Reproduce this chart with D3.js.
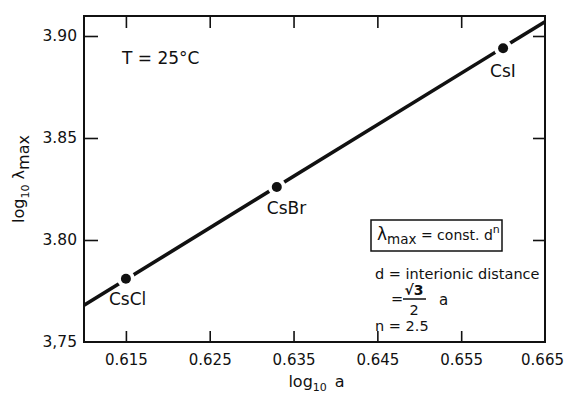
<!DOCTYPE html>
<html>
<head>
<meta charset="utf-8">
<script src="https://cdn.jsdelivr.net/npm/d3@7"></script>
<style>
  body { margin: 0; background: #fff; }
  svg text { font-family: "DejaVu Sans", sans-serif; fill: #111; }
</style>
</head>
<body>
<div id="chart"></div>
<script>
// Values
const salts = ["CsCl", "CsBr", "CsI"];
const logA = [0.615, 0.633, 0.660];
const logLambda = [3.781, 3.826, 3.894];
// fitted straight line, ends at the frame
const fitLogA = [0.610, 0.665];
const fitLogLambda = [3.768, 3.907];
// label offsets from each point (dx, dy)
const labelDx = [-17, -10, -13];
const labelDy = [26, 27, 29];

const xTicks = [0.615, 0.625, 0.635, 0.645, 0.655, 0.665];
const xTickLabels = ["0.615", "0.625", "0.635", "0.645", "0.655", "0.665"];
const yTicks = [3.75, 3.80, 3.85, 3.90];
const yTickLabels = ["3,75", "3.80", "3.85", "3.90"];

const width = 565, height = 396;
const frame = {left: 84, right: 545, top: 16, bottom: 342};

const svg = d3.select("#chart")
  .append("svg")
    .attr("width", width)
    .attr("height", height);

const x = d3.scaleLinear()
  .domain([0.610, 0.665])
  .range([frame.left, frame.right]);

const y = d3.scaleLinear()
  .domain([3.75, 3.9098])
  .range([frame.bottom, frame.top]);

// inward ticks on all four sides (skip the corners)
const innerX = xTicks.slice(0, -1);
const innerY = yTicks.slice(1);

svg.append("g")
  .attr("transform", `translate(0,${frame.bottom})`)
  .call(d3.axisBottom(x).tickValues(innerX).tickSize(-11).tickSizeOuter(0).tickFormat(""));
svg.append("g")
  .attr("transform", `translate(0,${frame.top})`)
  .call(d3.axisTop(x).tickValues(innerX).tickSize(-12).tickSizeOuter(0).tickFormat(""));
svg.append("g")
  .attr("transform", `translate(${frame.left},0)`)
  .call(d3.axisLeft(y).tickValues(innerY).tickSize(-14).tickSizeOuter(0).tickFormat(""));
svg.append("g")
  .attr("transform", `translate(${frame.right},0)`)
  .call(d3.axisRight(y).tickValues(innerY).tickSize(-12).tickSizeOuter(0).tickFormat(""));

svg.selectAll(".domain").remove();
svg.selectAll(".tick line").attr("stroke", "#111").attr("stroke-width", 1.6);

// tick labels
svg.append("g")
  .attr("transform", `translate(0,${frame.bottom})`)
  .call(d3.axisBottom(x).tickValues(xTicks).tickSize(0).tickPadding(12)
    .tickFormat((d, i) => xTickLabels[i]))
  .call(g => g.select(".domain").remove())
  .selectAll("text")
    .style("font-size", "15px")
    .attr("dx", (d, i) => i === xTicks.length - 1 ? -3 : 0);

svg.append("g")
  .attr("transform", `translate(${frame.left},0)`)
  .call(d3.axisLeft(y).tickValues(yTicks).tickSize(0).tickPadding(7)
    .tickFormat((d, i) => yTickLabels[i]))
  .call(g => g.select(".domain").remove())
  .selectAll("text")
    .style("font-size", "15.5px");

// frame
svg.append("rect")
  .attr("x", frame.left)
  .attr("y", frame.top)
  .attr("width", frame.right - frame.left)
  .attr("height", frame.bottom - frame.top)
  .attr("fill", "none")
  .attr("stroke", "#111")
  .attr("stroke-width", 2);

// fitted line
const line = d3.line()
  .x(d => x(d[0]))
  .y(d => y(d[1]));

svg.append("path")
  .datum(d3.zip(fitLogA, fitLogLambda))
  .attr("d", line)
  .attr("fill", "none")
  .attr("stroke", "#111")
  .attr("stroke-width", 3.6);

const pts = salts.map((s, i) => ({name: s, a: logA[i], l: logLambda[i], dx: labelDx[i], dy: labelDy[i]}));

// white gaps in the line around each point, then the dots
svg.selectAll(".gap")
  .data(pts)
  .enter()
  .append("circle")
    .attr("cx", d => x(d.a))
    .attr("cy", d => y(d.l))
    .attr("r", 9)
    .attr("fill", "#fff");

svg.selectAll(".dot")
  .data(pts)
  .enter()
  .append("circle")
    .attr("cx", d => x(d.a))
    .attr("cy", d => y(d.l))
    .attr("r", 5)
    .attr("fill", "#111");

svg.selectAll(".salt")
  .data(pts)
  .enter()
  .append("text")
    .attr("x", d => x(d.a) + d.dx)
    .attr("y", d => y(d.l) + d.dy)
    .style("font-size", "17px")
    .text(d => d.name);

// axis titles
const xt = svg.append("text")
  .attr("x", (frame.left + frame.right) / 2 + 2)
  .attr("y", 387)
  .attr("text-anchor", "middle")
  .style("font-size", "16px");
xt.append("tspan").text("log");
xt.append("tspan").attr("dy", 4).style("font-size", "11px").text("10");
xt.append("tspan").attr("dy", -4).text("\u2002a");

const yt = svg.append("text")
  .attr("transform", `translate(24,${(frame.top + frame.bottom) / 2}) rotate(-90)`)
  .attr("text-anchor", "middle")
  .style("font-size", "16px");
yt.append("tspan").text("log");
yt.append("tspan").attr("dy", 5).style("font-size", "11px").text("10");
yt.append("tspan").attr("dy", -5).text(" \u03bb");
yt.append("tspan").attr("dy", 5).text("max");

// annotations
svg.append("text")
  .attr("x", 122)
  .attr("y", 64)
  .style("font-size", "17px")
  .text("T = 25\u00b0C");

svg.append("rect")
  .attr("x", 371)
  .attr("y", 220)
  .attr("width", 131)
  .attr("height", 31)
  .attr("fill", "none")
  .attr("stroke", "#111")
  .attr("stroke-width", 1.5);

const eq = svg.append("text")
  .attr("x", 377)
  .attr("y", 240)
  .style("font-size", "14px");
eq.append("tspan").style("font-size", "17px").text("\u03bb");
eq.append("tspan").attr("dy", 4).style("font-size", "13.5px").text("max");
eq.append("tspan").attr("dy", -4).text(" = const. d");
eq.append("tspan").attr("dy", -7).style("font-size", "11px").text("n");

svg.append("text")
  .attr("x", 375)
  .attr("y", 279)
  .style("font-size", "14.5px")
  .text("d = interionic distance");

svg.append("text")
  .attr("x", 391)
  .attr("y", 304)
  .style("font-size", "14.5px")
  .text("=");
svg.append("text")
  .attr("x", 414)
  .attr("y", 295)
  .attr("text-anchor", "middle")
  .style("font-size", "14px")
  .style("font-weight", "bold")
  .text("\u221a3");
svg.append("line")
  .attr("x1", 403).attr("x2", 426)
  .attr("y1", 299).attr("y2", 299)
  .attr("stroke", "#111").attr("stroke-width", 1.5);
svg.append("text")
  .attr("x", 414)
  .attr("y", 315)
  .attr("text-anchor", "middle")
  .style("font-size", "14.5px")
  .text("2");
svg.append("text")
  .attr("x", 439)
  .attr("y", 305)
  .style("font-size", "15px")
  .text("a");

svg.append("text")
  .attr("x", 375)
  .attr("y", 331)
  .style("font-size", "14.5px")
  .text("n = 2.5");
</script>
</body>
</html>
